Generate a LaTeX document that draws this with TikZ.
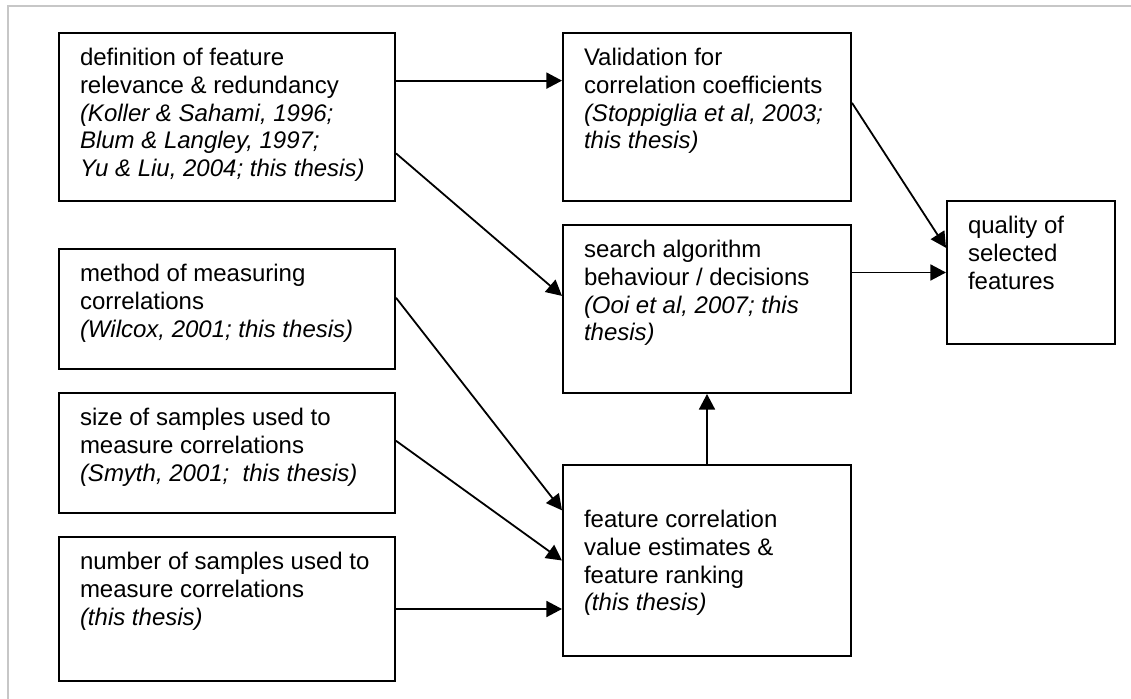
\documentclass[tikz,border=0pt]{standalone}
\usepackage{fontspec}
\setmainfont{Liberation Sans}
\usetikzlibrary{arrows.meta,calc}
\newcommand\boxtext[3]{\parbox[t][\dimexpr#2pt-13.6pt\relax][t]{\dimexpr#1pt-21pt\relax}{\raggedright\strut #3}}
\tikzset{
  box/.style={draw=black, line width=1pt, rectangle, anchor=north west,
    inner xsep=10.5pt, inner ysep=6.8pt, font=\fontsize{12}{13.8}\selectfont},
  conn/.style={draw=black, line width=0.9pt, -{Triangle[length=7.8pt,width=8pt]}},
  frameline/.style={draw=black!22, line width=1pt}
}
\begin{document}
\begin{tikzpicture}[x=0.5pt,y=-0.5pt]
\useasboundingbox (0,0) rectangle (1131,699);
\coordinate (fa) at (1131,6.5);
\coordinate (fb) at (8,6.5);
\coordinate (fc) at (8,699);
\draw[frameline] (fa) -- (fb) -- (fc);

\node[box, minimum width=168pt, minimum height=84pt] (b1) at (58,32)
  {\boxtext{168}{84}{definition of feature\\relevance \& redundancy\\{\itshape (Koller \& Sahami, 1996;\\Blum \& Langley, 1997;\\Yu \& Liu, 2004; this thesis)}}};
\node[box, minimum width=168pt, minimum height=60pt] (b2) at (58,248)
  {\boxtext{168}{60}{method of measuring\\correlations\\{\itshape (Wilcox, 2001; this thesis)}}};
\node[box, minimum width=168pt, minimum height=60pt] (b3) at (58,392)
  {\boxtext{168}{60}{size of samples used to\\measure correlations\\{\itshape (Smyth, 2001;\ \ this thesis)}}};
\node[box, minimum width=168pt, minimum height=72pt] (b4) at (58,536)
  {\boxtext{168}{72}{number of samples used to\\measure correlations\\{\itshape (this thesis)}}};
\node[box, minimum width=144pt, minimum height=84pt] (v) at (562,32)
  {\boxtext{144}{84}{Validation for\\correlation coefficients\\{\itshape (Stoppiglia et al, 2003;\\this thesis)}}};
\node[box, minimum width=144pt, minimum height=84pt] (s) at (562,224)
  {\boxtext{144}{84}{search algorithm\\behaviour / decisions\\{\itshape (Ooi et al, 2007; this\\thesis)}}};
\node[box, minimum width=144pt, minimum height=95.5pt] (f) at (562,464)
  {\boxtext{144}{95.5}{\mbox{}\\[1.2pt]feature correlation\\value estimates \&\\feature ranking\\{\itshape (this thesis)}}};
\node[box, minimum width=84pt, minimum height=71.5pt] (q) at (946,200)
  {\boxtext{84}{71.5}{quality of\\selected\\features}};

\draw[conn] ($(b1.north east)!0.286!(b1.south east)$) -- ($(v.north west)!0.286!(v.south west)$);
\draw[conn] ($(b1.north east)!0.714!(b1.south east)$) -- ($(s.north west)!0.423!(s.south west)$);
\draw[conn] ($(v.north east)!0.417!(v.south east)$) -- ($(q.north west)!0.33!(q.south west)$);
\draw[conn] (q.west -| s.east) -- (q.west);
\draw[conn] ($(b2.north east)!0.408!(b2.south east)$) -- ($(f.north west)!0.24!(f.south west)$);
\draw[conn] ($(b3.north east)!0.4!(b3.south east)$) -- (f.west);
\draw[conn] (b4.east) -- (b4.east -| f.west);
\draw[conn] (f.north) -- (s.south);
\end{tikzpicture}
\end{document}
